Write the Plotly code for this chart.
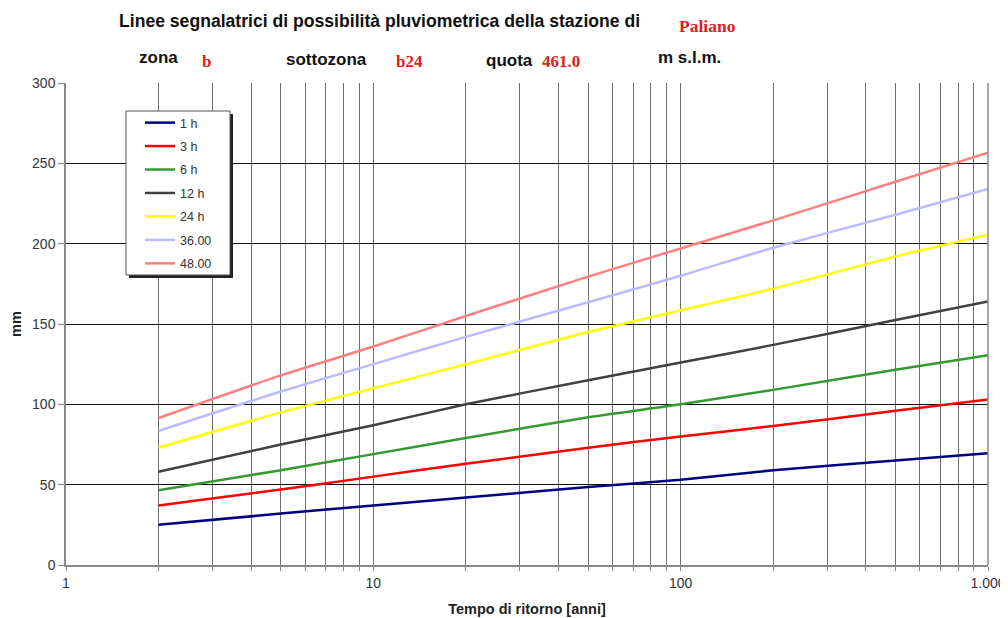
import plotly.graph_objects as go

T = [2, 5, 10, 20, 50, 100, 200, 500, 1000]
names = ["1 h", "3 h", "6 h", "12 h", "24 h", "36.00", "48.00"]
h1 = [25, 32, 37, 42, 48.5, 53, 59, 65, 69.5]
h3 = [37, 47, 55, 63, 73, 80, 86.5, 96, 103]
h6 = [46.5, 59, 69, 79, 92, 100, 109, 121.5, 130.5]
h12 = [58, 75, 87, 100, 115, 126, 137, 152.5, 164]
h24 = [73, 95, 110, 125, 145, 158.5, 172, 192, 205.5]
h36 = [83.5, 108, 125, 142, 163.5, 180, 197.5, 218, 234]
h48 = [91.5, 118, 136, 155, 179.5, 197, 214.5, 238.5, 256.6]
series = [h1, h3, h6, h12, h24, h36, h48]
colors = ["#000080", "#FF0000", "#339933", "#404040", "#FFFF00", "#BBBBFF", "#FF8080"]

grid_x = [1, 2, 3, 4, 5, 6, 7, 8, 9, 10, 20, 30, 40, 50, 60, 70, 80, 90, 100,
          200, 300, 400, 500, 600, 700, 800, 900, 1000]
label_map = {1: "1", 10: "10", 100: "100", 1000: "1.000"}
grid_text = [label_map.get(v, "") for v in grid_x]
y_ticks = [0, 50, 100, 150, 200, 250, 300]

# page body has an 8px margin: work in screen pixels, shift into figure pixels
OFF = 8
W, H = 1008 - OFF, 618 - OFF
L, R, TOP, BOT = 66, 988, 83, 565  # screen pixels of the plot area

def px(x):
    return (x - L) / (R - L)
def py(y):
    return (BOT - y) / (BOT - TOP)

fig = go.Figure()
for i, (n, s, c) in enumerate(zip(names, series, colors)):
    fig.add_trace(go.Scatter(x=T, y=s, mode="lines", name=n, legendgroup=f"g{i}",
                             line=dict(color=c, width=2.5, shape="spline", smoothing=0.6)))

fig.update_layout(
    width=W, height=H,
    margin=dict(l=L - OFF, r=W - (R - OFF), t=TOP - OFF, b=H - (BOT - OFF), autoexpand=False),
    paper_bgcolor="white", plot_bgcolor="white",
    font=dict(family="Liberation Sans, Arial", size=12, color="#333333"),
    showlegend=True,
    legend=dict(x=px(140), y=py(108), xanchor="left", yanchor="top",
                bgcolor="rgba(0,0,0,0)", borderwidth=0,
                font=dict(size=12.5, color="#333333"), tracegroupgap=4.2,
                itemwidth=30),
    xaxis=dict(type="log", range=[0, 3], tickvals=grid_x, ticktext=grid_text,
               showgrid=True, gridcolor="#6e6e6e", gridwidth=1.2,
               showline=True, linecolor="#888888", linewidth=1.5,
               ticks="outside", ticklen=4, tickcolor="#888888",
               automargin=False,
               title=dict(text="<b>Tempo di ritorno [anni]</b>", standoff=14,
                          font=dict(size=14.5, color="#222222")),
               zeroline=False, tickfont=dict(size=14, color="#333333")),
    yaxis=dict(range=[0, 300], tickvals=y_ticks, showgrid=True,
               gridcolor="#111111", gridwidth=1,
               showline=True, linecolor="#888888", linewidth=1.5,
               ticks="outside", ticklen=6, tickcolor="#888888",
               automargin=False,
               title=dict(text="<b>mm</b>", standoff=8,
                          font=dict(size=14.5, color="#222222")),
               zeroline=False, tickfont=dict(size=14, color="#333333")),
)

# right border of plot
fig.add_shape(type="line", xref="paper", yref="paper", x0=1, x1=1, y0=0, y1=1,
              line=dict(color="#888888", width=1.5))
# legend shadow and box
fig.add_shape(type="rect", xref="paper", yref="paper",
              x0=px(129), x1=px(233), y0=py(278), y1=py(114),
              fillcolor="#222222", line=dict(width=0), layer="above")
fig.add_shape(type="rect", xref="paper", yref="paper",
              x0=px(126), x1=px(230), y0=py(275), y1=py(111),
              fillcolor="white", line=dict(color="#555555", width=1), layer="above")

bold = "Liberation Sans, Arial"
serif = "Liberation Serif, Times New Roman"
def txt(x, y, t, color="#111111", fam=bold, size=17):
    fig.add_annotation(x=px(x), y=py(y), xref="paper", yref="paper", text=t,
                       showarrow=False, xanchor="left", yanchor="middle",
                       borderpad=0, font=dict(family=fam, size=size, color=color))

txt(118, 21, "<b>Linee segnalatrici di possibilità pluviometrica della stazione di</b>", size=17.6)
txt(678, 26, "<b>Paliano</b>", color="#E02020", fam=serif, size=17.5)
txt(138, 58, "<b>zona</b>")
txt(201, 62, "<b>b</b>", color="#E02020", fam=serif, size=17)
txt(285, 60, "<b>sottozona</b>")
txt(395, 62, "<b>b24</b>", color="#E02020", fam=serif, size=17)
txt(485, 61, "<b>quota</b>")
txt(541, 62, "<b>461.0</b>", color="#E02020", fam=serif, size=17)
txt(657, 58, "<b>m s.l.m.</b>")

fig.write_html("out.html")
